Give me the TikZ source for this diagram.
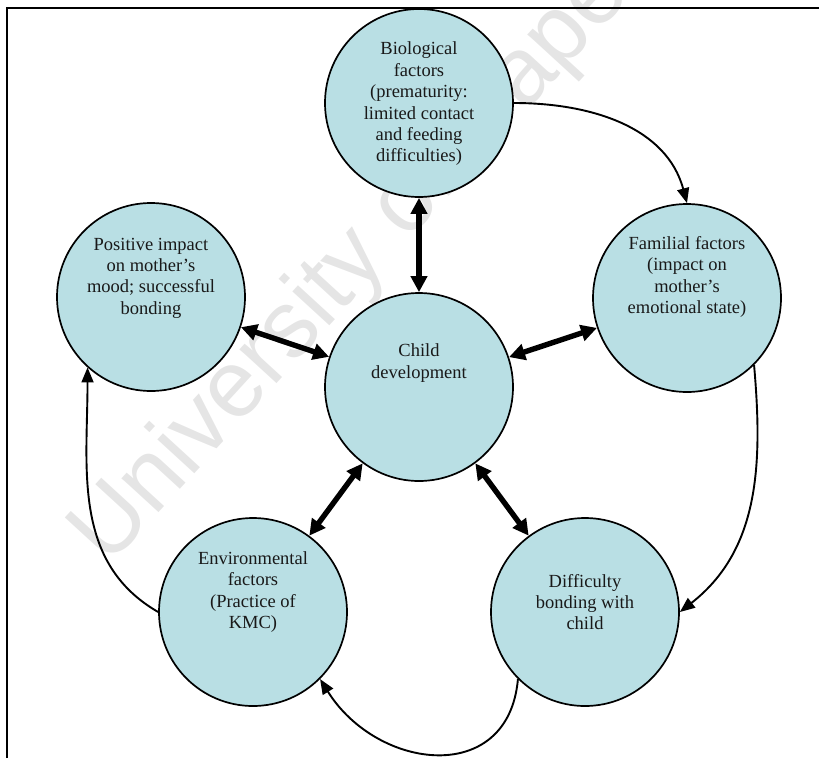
\documentclass[tikz,border=0pt]{standalone}
\usepackage{fontspec}
\setmainfont{Liberation Serif}
\newfontfamily\wmfont{Liberation Sans}
\usetikzlibrary{arrows.meta}
\definecolor{bubblefill}{RGB}{185,223,228}
\definecolor{wmgray}{RGB}{229,229,229}
\begin{document}
\begin{tikzpicture}[x=1pt,y=1pt,
  bubble/.style={circle, draw=black, line width=1.7pt, fill=bubblefill, minimum size=188pt, inner sep=0pt},
  lbl/.style={align=center, font=\fontsize{18.5}{21.4}\selectfont, text=black!90, inner sep=0pt},
  thinarrow/.style={line width=1.9pt, -{Triangle[length=15pt,width=12pt]}},
  thickarrow/.style={line width=5.4pt, {Triangle[length=16pt,width=16pt]}-{Triangle[length=16pt,width=16pt]}},
  frameline/.style={line width=2.6pt}
]
\useasboundingbox (0,0) rectangle (819,-758);
% watermark
\node[rotate=47.5, anchor=base west, text=wmgray, font=\wmfont\fontsize{95}{95}\selectfont, inner sep=0pt] (wm) at (108,-568) {University of Cape};
% frame
\coordinate (fa) at (7,-758);
\coordinate (fb) at (7,-8);
\coordinate (fc) at (819,-8);
\draw[frameline] (fa) -- (fb) -- (fc);
% circles
\node[bubble] (bio)   at (419,-103) {};
\node[bubble] (pos)   at (151,-297) {};
\node[bubble] (fam)   at (687,-298) {};
\node[bubble] (child) at (419,-387) {};
\node[bubble] (env)   at (253,-612) {};
\node[bubble] (diff)  at (585,-612) {};
% texts
\node[lbl] (tbio)   at (419,-104) {Biological\\factors\\(prematurity:\\limited contact\\and feeding\\difficulties)};
\node[lbl] (tpos)   at (151,-278) {Positive impact\\on mother’s\\mood; successful\\bonding};
\node[lbl] (tfam)   at (687,-277) {Familial factors\\(impact on\\mother’s\\emotional state)};
\node[lbl] (tchild) at (419,-363) {Child\\development};
\node[lbl] (tenv)   at (253,-592) {Environmental\\factors\\(Practice of\\KMC)};
\node[lbl] (tdiff)  at (585,-602) {Difficulty\\bonding with\\child};
% thick double arrows
\draw[thickarrow] (bio) -- (child);
\draw[thickarrow] (pos) -- (child);
\draw[thickarrow] (fam) -- (child);
\draw[thickarrow] (env) -- (child);
\draw[thickarrow] (diff) -- (child);
% thin curved arrows
\draw[thinarrow] (bio.east) to[out=0, in=105] (fam.north);
\draw[thinarrow] (fam.-45) to[out=-85, in=38] (diff.east);
\draw[thinarrow] (diff.-135) to[out=-95, in=-58, looseness=1.4] (env.-45);
\draw[thinarrow] (env.west) to[out=150, in=-90] (pos.-132);
\end{tikzpicture}
\end{document}
